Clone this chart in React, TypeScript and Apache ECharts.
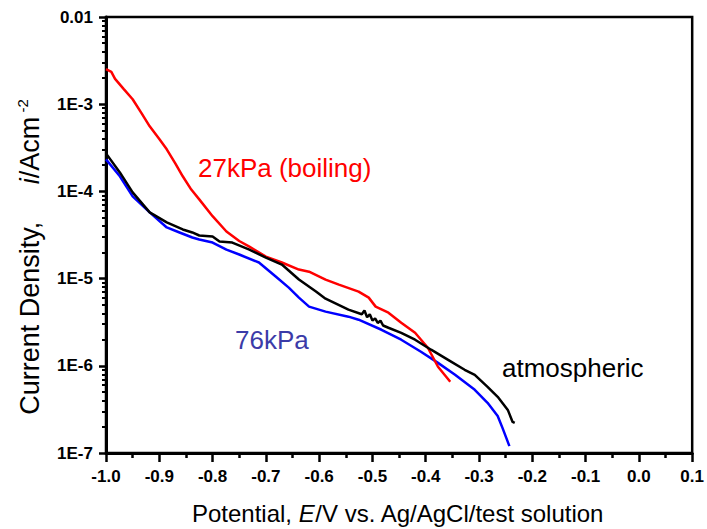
import React, { useEffect, useRef } from "react";
import * as echarts from "echarts";

// ---- data (potential in V, current density in A/cm2) ----
const redX = [-1.0, -0.99, -0.983, -0.967, -0.95, -0.934, -0.918, -0.9, -0.886, -0.87, -0.856, -0.84, -0.825, -0.8, -0.774, -0.75, -0.731, -0.7, -0.67, -0.638, -0.619, -0.588, -0.563, -0.526, -0.507, -0.494, -0.47, -0.446, -0.42, -0.396, -0.377, -0.354];
const redY = [2.52e-3, 2.35e-3, 1.95e-3, 1.5e-3, 1.14e-3, 8.0e-4, 5.58e-4, 4.0e-4, 3.04e-4, 2.1e-4, 1.49e-4, 1.05e-4, 8.1e-5, 5.2e-5, 3.47e-5, 2.7e-5, 2.33e-5, 1.79e-5, 1.53e-5, 1.27e-5, 1.2e-5, 9.75e-6, 8.53e-6, 7.1e-6, 6.05e-6, 4.77e-6, 4.07e-6, 3.12e-6, 2.39e-6, 1.61e-6, 9.75e-7, 6.55e-7];

const blackX = [-1.0, -0.974, -0.95, -0.918, -0.886, -0.856, -0.838, -0.825, -0.8, -0.787, -0.763, -0.731, -0.7, -0.67, -0.638, -0.606, -0.588, -0.545, -0.52, -0.515, -0.51, -0.505, -0.5, -0.495, -0.49, -0.485, -0.48, -0.47, -0.446, -0.42, -0.39, -0.358, -0.327, -0.308, -0.284, -0.265, -0.246, -0.237, -0.233];
const blackY = [2.73e-4, 1.65e-4, 9.75e-5, 5.74e-5, 4.41e-5, 3.66e-5, 3.38e-5, 3.12e-5, 3.04e-5, 2.66e-5, 2.59e-5, 2.15e-5, 1.74e-5, 1.45e-5, 9.75e-6, 7.1e-6, 5.89e-6, 4.41e-6, 3.9e-6, 4.3e-6, 3.6e-6, 3.9e-6, 3.3e-6, 3.5e-6, 3.1e-6, 3.3e-6, 2.9e-6, 2.73e-6, 2.39e-6, 1.99e-6, 1.53e-6, 1.17e-6, 9.0e-7, 7.88e-7, 5.74e-7, 4.41e-7, 3.12e-7, 2.27e-7, 2.21e-7];

const blueX = [-1.0, -0.974, -0.95, -0.918, -0.886, -0.862, -0.838, -0.825, -0.8, -0.774, -0.75, -0.713, -0.681, -0.657, -0.638, -0.619, -0.588, -0.545, -0.526, -0.483, -0.446, -0.409, -0.377, -0.345, -0.308, -0.284, -0.265, -0.256, -0.243];
const blueY = [2.33e-4, 1.49e-4, 8.77e-5, 5.74e-5, 3.86e-5, 3.38e-5, 2.96e-5, 2.81e-5, 2.59e-5, 2.15e-5, 1.89e-5, 1.53e-5, 1.05e-5, 7.88e-6, 6.05e-6, 4.77e-6, 4.18e-6, 3.66e-6, 3.38e-6, 2.59e-6, 1.99e-6, 1.45e-6, 1.08e-6, 7.88e-7, 5.3e-7, 3.76e-7, 2.66e-7, 1.94e-7, 1.2e-7];

const seriesNames = ["27kPa (boiling)", "76kPa", "atmospheric"];
const decades = [1e-7, 1e-6, 1e-5, 1e-4, 1e-3];
const minorMultipliers = [2, 3, 4, 5, 6, 7, 8, 9];
const xTickDecimals = 1;

const FONT = "'Liberation Sans', Arial, sans-serif";

function zip(xs: number[], ys: number[]) {
  return xs.map((x, i) => [x, ys[i]]);
}

export default function App() {
  const ref = useRef<HTMLDivElement>(null);
  useEffect(() => {
    if (!ref.current) return;
    const chart = echarts.init(ref.current, undefined, { renderer: "svg" });
    const minorValues: number[] = [];
    decades.forEach((d) => minorMultipliers.forEach((m) => minorValues.push(d * m)));

    const yLabel = (v: number) => {
      const e = Math.round(Math.log10(v));
      if (e >= -2) return "0.01";
      return "1E" + e;
    };

    chart.setOption({
      animation: false,
      backgroundColor: "#fff",
      grid: {
        left: 106,
        right: 10,
        top: 17,
        bottom: 76,
        show: true,
        borderColor: "#000",
        borderWidth: 2.5,
      },
      xAxis: {
        type: "value",
        min: -1.0,
        max: 0.1,
        interval: 0.1,
        axisLine: { show: true, onZero: false, lineStyle: { color: "#000", width: 3 } },
        axisTick: { show: true, inside: false, length: 9, lineStyle: { color: "#000", width: 2.5 } },
        minorTick: { show: true, splitNumber: 2, length: 5, lineStyle: { color: "#000", width: 2.5 } },
        splitLine: { show: false },
        axisLabel: {
          margin: 15,
          color: "#000",
          fontFamily: FONT,
          fontWeight: "bold",
          fontSize: 17,
          formatter: (v: number) => v.toFixed(xTickDecimals),
        },
      },
      yAxis: [
        {
          type: "log",
          logBase: 10,
          min: 1e-7,
          max: 1e-2,
          position: "left",
          axisLine: { show: true, onZero: false, lineStyle: { color: "#000", width: 3 } },
          axisTick: { show: true, inside: false, length: 7, lineStyle: { color: "#000", width: 2.5 } },
          splitLine: { show: false },
          axisLabel: {
            margin: 13,
            color: "#000",
            fontFamily: FONT,
            fontWeight: "bold",
            fontSize: 17,
            formatter: yLabel,
          },
        },
        {
          type: "log",
          logBase: 10,
          min: 1e-7,
          max: 1e-2,
          position: "left",
          offset: 0,
          axisLine: { show: false, onZero: false },
          axisTick: {
            show: true,
            inside: false,
            length: 4,
            customValues: minorValues,
            lineStyle: { color: "#000", width: 2 },
          },
          axisLabel: { show: false },
          splitLine: { show: false },
        },
      ],
      series: [
        {
          name: seriesNames[0],
          type: "line",
          data: zip(redX, redY),
          showSymbol: false,
          lineStyle: { color: "#ff0000", width: 2.5 },
          z: 3,
        },
        {
          name: seriesNames[1],
          type: "line",
          data: zip(blueX, blueY),
          showSymbol: false,
          lineStyle: { color: "#0000ff", width: 2.5 },
          z: 2,
        },
        {
          name: seriesNames[2],
          type: "line",
          data: zip(blackX, blackY),
          showSymbol: false,
          lineStyle: { color: "#000000", width: 2.5 },
          z: 4,
        },
      ],
      graphic: [
        {
          type: "text",
          left: 198,
          top: 155,
          style: { text: seriesNames[0], fill: "#ff0000", font: `26px ${FONT}` },
        },
        {
          type: "text",
          left: 235,
          top: 327,
          style: { text: seriesNames[1], fill: "#3b3ba8", font: `26px ${FONT}` },
        },
        {
          type: "text",
          left: 502,
          top: 355,
          style: { text: seriesNames[2], fill: "#000", font: `26px ${FONT}` },
        },
        {
          type: "text",
          x: 398,
          y: 513,
          style: {
            text: "{a|Potential, }{i|E}{a|/V vs. Ag/AgCl/test solution}",
            align: "center",
            verticalAlign: "middle",
            rich: {
              a: { fontFamily: FONT, fontSize: 24, fill: "#000" },
              i: { fontFamily: FONT, fontSize: 24, fontStyle: "italic", fill: "#000" },
            },
          },
        },
        {
          type: "text",
          x: 30,
          y: 257,
          rotation: Math.PI / 2,
          style: {
            text: "{a|Current Density,     }{i|i}{a|/Acm}{s| -2}",
            align: "center",
            verticalAlign: "middle",
            rich: {
              a: { fontFamily: FONT, fontSize: 27, fill: "#000", lineHeight: 30 },
              i: { fontFamily: FONT, fontSize: 27, fontStyle: "italic", fill: "#000", lineHeight: 30 },
              s: { fontFamily: FONT, fontSize: 15, fill: "#000", verticalAlign: "top", lineHeight: 30 },
            },
          },
        },
      ],
    });
    return () => chart.dispose();
  }, []);
  return (
    <div
      ref={ref}
      style={{ position: "fixed", left: 0, top: 0, width: 707, height: 529 }}
    />
  );
}
